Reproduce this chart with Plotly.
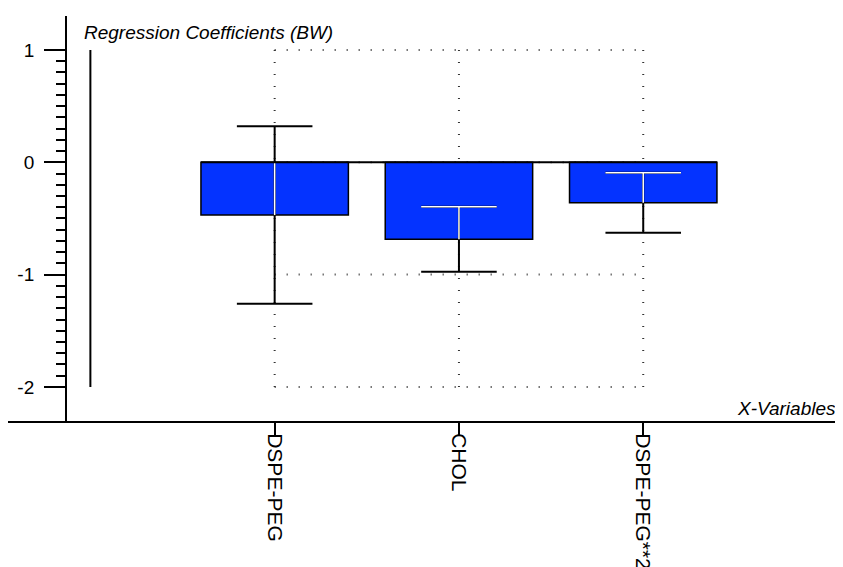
import plotly.graph_objects as go

# ---- data ----
categories = ["DSPE-PEG", "CHOL", "DSPE-PEG**2"]
coef_values = [-0.47, -0.685, -0.36]
coef_errors = [0.79, 0.29, 0.267]
y_tick_values = [-2, -1, 0, 1]
y_tick_labels = ["-2", "-1", "0", "1"]
grid_y_values = [1, 0, -1, -2]

xpos = list(range(len(categories)))
BAR_W = 0.8
CAP = 0.205
FONT = "Liberation Sans, Arial, sans-serif"

fig = go.Figure()

fig.add_trace(go.Bar(
    x=xpos, y=coef_values, width=BAR_W,
    marker=dict(color="#0433ff", line=dict(color="black", width=1.5)),
    showlegend=False, hoverinfo="skip",
))

# black error bars (full)
bx, by = [], []
for x, v, e in zip(xpos, coef_values, coef_errors):
    up, lo = v + e, v - e
    bx += [x, x, None, x - CAP, x + CAP, None, x - CAP, x + CAP, None]
    by += [lo, up, None, up, up, None, lo, lo, None]
fig.add_trace(go.Scatter(x=bx, y=by, mode="lines",
                         line=dict(color="black", width=2),
                         showlegend=False, hoverinfo="skip"))

# white portions inside the bars
wx, wy = [], []
for x, v, e in zip(xpos, coef_values, coef_errors):
    up, lo = v + e, v - e
    top = min(up, 0)
    bot = max(lo, v)
    wx += [x, x, None]
    wy += [bot, top, None]
    if up < 0:
        wx += [x - CAP, x + CAP, None]
        wy += [up, up, None]
    if lo > v:
        wx += [x - CAP, x + CAP, None]
        wy += [lo, lo, None]
fig.add_trace(go.Scatter(x=wx, y=wy, mode="lines",
                         line=dict(color="white", width=1.5),
                         showlegend=False, hoverinfo="skip"))

shapes = []
dot = dict(color="#333333", width=2, dash="1px,11px")
for x in xpos:
    shapes.append(dict(type="line", xref="x", yref="y", x0=x, x1=x,
                       y0=min(y_tick_values), y1=max(y_tick_values),
                       line=dot, layer="below"))
for gy in grid_y_values:
    shapes.append(dict(type="line", xref="x", yref="y", x0=xpos[0], x1=xpos[-1],
                       y0=gy, y1=gy, line=dot, layer="below"))
# zero line
shapes.append(dict(type="line", xref="x", yref="y",
                   x0=xpos[0] - BAR_W / 2, x1=xpos[-1] + BAR_W / 2, y0=0, y1=0,
                   line=dict(color="black", width=2)))
# phantom solid line at position -1
shapes.append(dict(type="line", xref="x", yref="y", x0=xpos[0] - 1, x1=xpos[0] - 1,
                   y0=min(y_tick_values), y1=max(y_tick_values),
                   line=dict(color="black", width=2)))

minor_vals = [round(-2 + k * 0.1, 2) for k in range(31)]
minor_vals = [m for m in minor_vals if m not in y_tick_values]

# page body has an 8px margin, so the figure is drawn 8px smaller and shifted
fig.update_layout(
    template="none",
    width=835, height=559,
    margin=dict(l=0, r=0, t=8, b=146, autoexpand=False),
    paper_bgcolor="white", plot_bgcolor="white",
    font=dict(family=FONT, size=19, color="black"),
    shapes=shapes,
    xaxis=dict(range=[-1.447, 3.084], tickvals=xpos, ticktext=categories,
               tickangle=90, tickfont=dict(size=21),
               showline=True, linewidth=2, linecolor="black",
               ticks="outside", ticklen=12, tickwidth=2, tickcolor="black",
               ticklabelstandoff=-6,
               showgrid=False, zeroline=False, automargin=False),
    yaxis=dict(range=[-2.303, 1.302], tickvals=y_tick_values, ticktext=y_tick_labels,
               anchor="free", position=0.0695,
               showline=True, linewidth=2, linecolor="black",
               ticks="outside", ticklen=21, tickwidth=2, tickcolor="black",
               ticklabelstandoff=6,
               minor=dict(tickvals=minor_vals, ticks="outside", ticklen=9,
                          tickwidth=2, tickcolor="black", showgrid=False),
               showgrid=False, zeroline=False, automargin=False),
    annotations=[
        dict(text="<i>Regression Coefficients (BW)</i>", xref="paper", yref="paper",
             x=0.0886, y=0.960, xanchor="left", yanchor="middle", showarrow=False,
             font=dict(size=19)),
        dict(text="<i>X-Variables</i>", xref="paper", yref="paper",
             x=0.994, y=0.032, xanchor="right", yanchor="middle", showarrow=False,
             font=dict(size=19)),
    ],
)

fig.write_html("out.html")
